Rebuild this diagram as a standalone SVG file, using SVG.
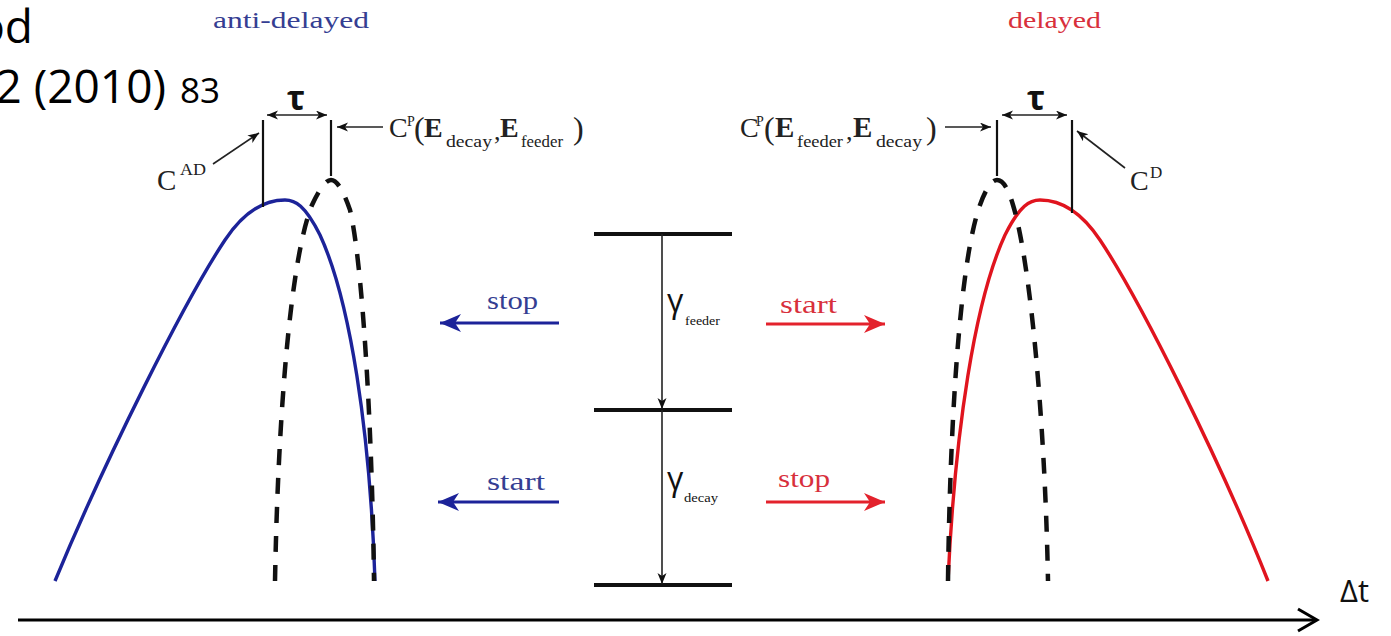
<svg xmlns="http://www.w3.org/2000/svg" width="1391" height="636" viewBox="0 0 1391 636">
<style>
.serif{font-family:"Liberation Serif","DejaVu Serif",serif;}
.sans{font-family:"Open Sans","Noto Sans","Liberation Sans",sans-serif;}
.thin{stroke:#222;stroke-width:1.6;fill:none;}
.vl{stroke:#111;stroke-width:2.2;fill:none;}
.lvl{stroke:#111;stroke-width:4;fill:none;}
.dash{stroke:#111;stroke-width:4.5;fill:none;stroke-dasharray:16 13;}
.bcurve{stroke:#1c2399;stroke-width:3.4;fill:none;}
.rcurve{stroke:#e0141e;stroke-width:3.4;fill:none;}
.barrow{stroke:#1c2399;stroke-width:3;fill:none;}
.rarrow{stroke:#e3222c;stroke-width:3;fill:none;}
.btxt{fill:#353e92;}
.rtxt{fill:#d8303c;}
</style>
<defs>
<marker id="ah" markerUnits="userSpaceOnUse" markerWidth="12" markerHeight="10" refX="11" refY="4.5" orient="auto-start-reverse">
<path d="M0,0 L11,4.5 L0,9 L3,4.5 z" fill="#111"/>
</marker>
<marker id="ahb" markerUnits="userSpaceOnUse" markerWidth="22" markerHeight="20" refX="21" refY="9" orient="auto">
<path d="M0,0 L21,9 L0,18 L6,9 z" fill="#1c2399"/>
</marker>
<marker id="ahr" markerUnits="userSpaceOnUse" markerWidth="22" markerHeight="20" refX="21" refY="9" orient="auto">
<path d="M0,0 L21,9 L0,18 L6,9 z" fill="#e3222c"/>
</marker>
</defs>
<rect width="1391" height="636" fill="#fff"/>

<g id="citation" class="sans" fill="#000">
<text x="33" y="43" font-size="46" text-anchor="end">od</text>
<text x="166" y="103" font-size="46" text-anchor="end">2 (2010)</text>
<text x="180" y="103" font-size="35">83</text>
</g>

<g id="anti-delayed">
<text class="serif btxt" x="213" y="28" font-size="23" textLength="156" lengthAdjust="spacingAndGlyphs">anti-delayed</text>
<path class="bcurve" d="M375,581 C370,430 350,300 320,235 C305,205 295,200 285,200 C265,200 245,210 225,240 C185,300 105,460 55,581"/>
<path class="dash" d="M275,581 C278,420 290,260 312,205 C320,188 326,180 331,180 C337,180 343,190 350,210 C362,260 372,420 374,581"/>
<line class="vl" x1="263" y1="120" x2="263" y2="207"/>
<line class="vl" x1="331" y1="120" x2="331" y2="176"/>
<text class="sans" x="296" y="110" font-size="34" font-weight="bold" text-anchor="middle" fill="#111">τ</text>
<text class="serif" x="157" y="190" font-size="29" fill="#222">C</text>
<text class="serif" x="180" y="175" font-size="17" fill="#222" textLength="26" lengthAdjust="spacingAndGlyphs">AD</text>
<g class="serif" fill="#222">
<text x="389" y="137" font-size="28">C</text>
<text x="407" y="126" font-size="14">P</text>
<text x="414" y="139" font-size="32">(</text>
<text x="424" y="137" font-size="28" font-weight="bold">E</text>
<text x="446" y="147" font-size="16" textLength="46" lengthAdjust="spacingAndGlyphs">decay</text>
<text x="494" y="140" font-size="26">,</text>
<text x="500" y="137" font-size="28" font-weight="bold">E</text>
<text x="521" y="147" font-size="16" textLength="42" lengthAdjust="spacingAndGlyphs">feeder</text>
<text x="573" y="139" font-size="32">)</text>
</g>
</g>

<g id="delayed">
<text class="serif rtxt" x="1008" y="28" font-size="23" textLength="93" lengthAdjust="spacingAndGlyphs">delayed</text>
<path class="rcurve" d="M948,581 C955,430 975,300 1005,235 C1020,205 1030,200 1040,200 C1060,200 1080,210 1100,240 C1140,300 1220,460 1268,581"/>
<path class="dash" d="M948,581 C950,420 960,260 980,205 C986,188 992,180 997,180 C1003,180 1008,188 1013,205 C1030,260 1045,420 1048,581"/>
<line class="vl" x1="997" y1="120" x2="997" y2="176"/>
<line class="vl" x1="1072" y1="120" x2="1072" y2="213"/>
<text class="sans" x="1036" y="110" font-size="34" font-weight="bold" text-anchor="middle" fill="#111">τ</text>
<text class="serif" x="1130" y="190" font-size="28" fill="#222">C</text>
<text class="serif" x="1150" y="178" font-size="17" fill="#222">D</text>
<g class="serif" fill="#222">
<text x="740" y="137" font-size="28">C</text>
<text x="756" y="126" font-size="14">P</text>
<text x="764" y="139" font-size="32">(</text>
<text x="775" y="137" font-size="29" font-weight="bold">E</text>
<text x="797" y="147" font-size="16" textLength="46" lengthAdjust="spacingAndGlyphs">feeder</text>
<text x="846" y="140" font-size="26">,</text>
<text x="853" y="137" font-size="29" font-weight="bold">E</text>
<text x="876" y="147" font-size="16" textLength="46" lengthAdjust="spacingAndGlyphs">decay</text>
<text x="926" y="139" font-size="32">)</text>
</g>
</g>

<g id="level-scheme">
<line class="lvl" x1="594" y1="234" x2="732" y2="234"/>
<line class="lvl" x1="594" y1="410" x2="732" y2="410"/>
<line class="lvl" x1="594" y1="585" x2="732" y2="585"/>
<text class="sans" x="667" y="312" font-size="32" fill="#111">γ</text>
<text class="serif" x="685" y="325" font-size="13" fill="#111" textLength="35" lengthAdjust="spacingAndGlyphs">feeder</text>
<text class="sans" x="667" y="490" font-size="32" fill="#111">γ</text>
<text class="serif" x="684" y="502" font-size="13" fill="#111" textLength="34" lengthAdjust="spacingAndGlyphs">decay</text>
</g>

<g id="start-stop-labels" class="serif">
<text class="btxt" x="487" y="309" font-size="26" textLength="51" lengthAdjust="spacingAndGlyphs">stop</text>
<text class="btxt" x="487" y="490" font-size="26" textLength="58" lengthAdjust="spacingAndGlyphs">start</text>
<text class="rtxt" x="780" y="313" font-size="26" textLength="57" lengthAdjust="spacingAndGlyphs">start</text>
<text class="rtxt" x="778" y="487" font-size="26" textLength="52" lengthAdjust="spacingAndGlyphs">stop</text>
</g>

<g id="axis-label">
<text class="sans" x="1340" y="602" font-size="31" fill="#111">Δt</text>
</g>

<g id="connectors">
<line class="thin" x1="662" y1="234" x2="662" y2="409" marker-end="url(#ah)"/>
<line class="thin" x1="662" y1="410" x2="662" y2="584" marker-end="url(#ah)"/>
<line class="barrow" x1="559" y1="323" x2="440" y2="323" marker-end="url(#ahb)"/>
<line class="barrow" x1="559" y1="502" x2="438" y2="502" marker-end="url(#ahb)"/>
<line class="rarrow" x1="766" y1="324" x2="885" y2="324" marker-end="url(#ahr)"/>
<line class="rarrow" x1="766" y1="502" x2="885" y2="502" marker-end="url(#ahr)"/>
<line class="thin" x1="267" y1="115" x2="327" y2="115" marker-start="url(#ah)" marker-end="url(#ah)"/>
<line class="thin" x1="1002" y1="115" x2="1067" y2="115" marker-start="url(#ah)" marker-end="url(#ah)"/>
<line class="thin" x1="213" y1="164" x2="259" y2="133" marker-end="url(#ah)"/>
<line class="thin" x1="383" y1="127" x2="337" y2="127" marker-end="url(#ah)"/>
<line class="thin" x1="945" y1="127" x2="991" y2="127" marker-end="url(#ah)"/>
<line class="thin" x1="1125" y1="168" x2="1077" y2="131" marker-end="url(#ah)"/>
<line stroke="#000" stroke-width="3" x1="18" y1="620" x2="1315" y2="620"/>
<polyline points="1298,609 1317,620 1298,631" stroke="#000" stroke-width="3" fill="none"/>
</g>
</svg>
